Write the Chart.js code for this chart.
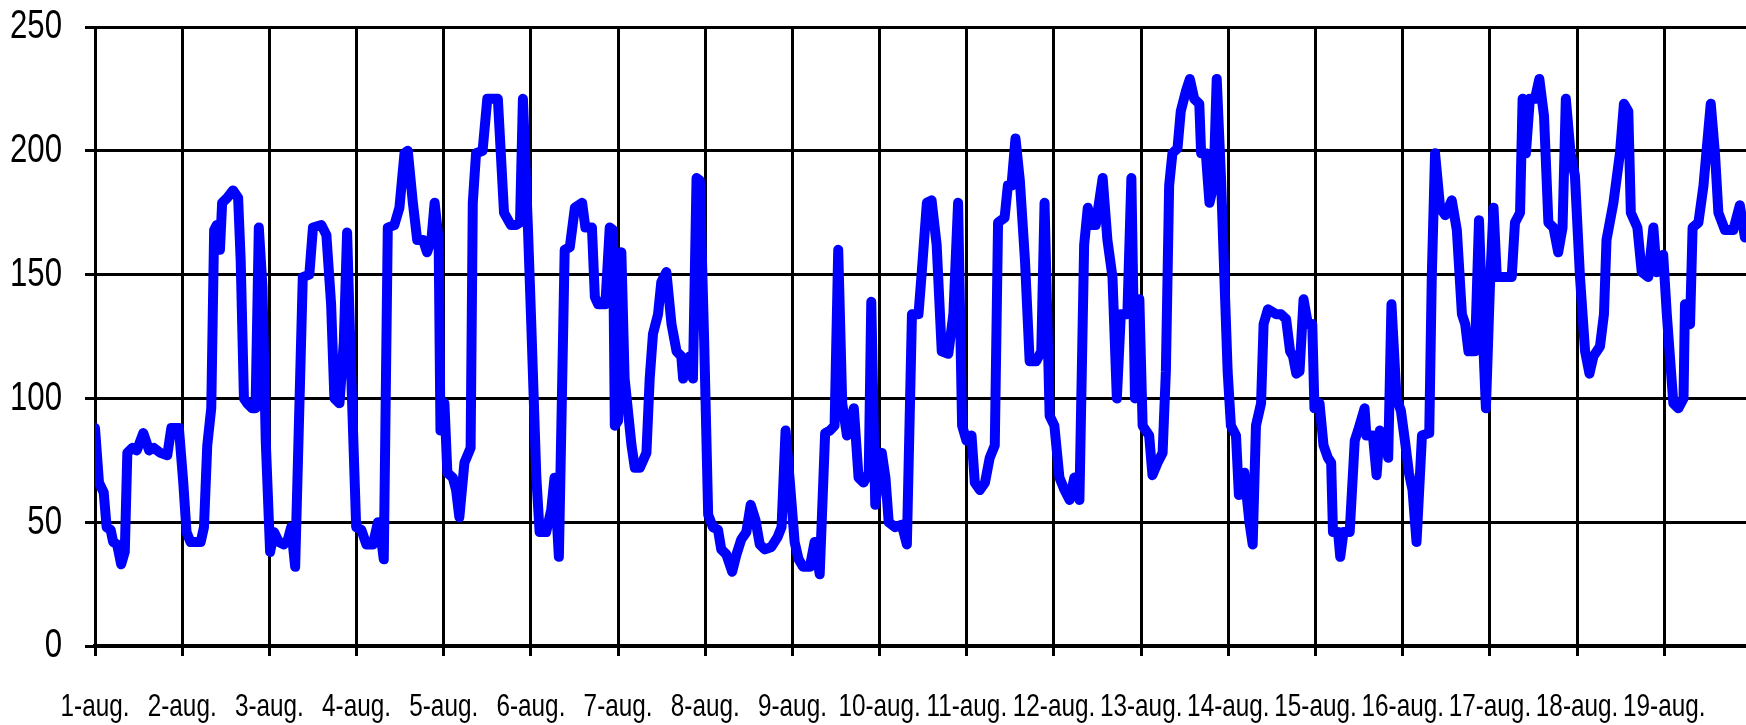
<!DOCTYPE html>
<html>
<head>
<meta charset="utf-8">
<script src="https://cdn.jsdelivr.net/npm/chart.js@4/dist/chart.umd.min.js"></script>
<style>
  html, body { margin: 0; padding: 0; background: #fff; }
  #wrap { width: 1746px; height: 725px; }
</style>
</head>
<body>
<div id="wrap"><canvas id="chart" width="1746" height="725"></canvas></div>
<script>
// day labels, one tick every 24 h
const dayLabels = ['1-aug.','2-aug.','3-aug.','4-aug.','5-aug.','6-aug.','7-aug.','8-aug.','9-aug.','10-aug.',
  '11-aug.','12-aug.','13-aug.','14-aug.','15-aug.','16-aug.','17-aug.','18-aug.','19-aug.'];
const yTicks = [0, 50, 100, 150, 200, 250];

// hours since 1-aug 00:00
const hours = [
  0,1.1,2.4,3.2,4.3,5,6.1,7.2,8.2,8.9,10.3,11.5,13.3,14.9,16.2,18,19.9,21,23.1,
  24.3,25.2,26.3,29.1,30,30.9,32,32.8,33.5,34.4,35,36.4,38,39.4,40.1,41,41.9,43.3,44.2,45.1,46.1,47,
  48.2,49.3,50.6,52,53.1,54,55.1,57.2,59,60,62.3,63.7,65,65.9,67.3,68.5,69.4,70.5,71.9,
  73.3,74.7,76.5,77.9,78.8,79.5,80.6,82.4,83.8,85.2,86.1,87.5,88.7,90.3,91.4,92.6,93.5,94.6,95.1,
  96.2,97,98.5,99.4,100.3,101.7,103.4,104,104.9,106.7,108,110.9,112.6,114.5,115.9,117,117.8,119.2,
  120.1,121.5,122.4,124.2,125.6,126.5,127.7,129.3,130.7,132.1,134.1,135,136.8,137.6,138.5,140.5,141.7,142.6,143.1,
  144,144.9,145.8,147.7,148.6,150,151.8,152.7,153.6,155,155.9,157.3,158.7,160.1,161.4,161.9,163.7,164.6,165.6,166.5,167.7,
  168.8,170.1,171.5,172.4,173.8,175.4,176.6,177.9,179.3,180.5,181.8,183,184.4,186.2,187.9,189,190.1,191.3,
  192.6,193.7,194.9,196.8,198.1,199.5,201,202.3,203.6,204.6,205.7,207,208.9,210.2,211.6,213,213.7,214.8,
  216.6,217.6,218.5,220.3,222.1,223.5,224.9,226.7,227.6,229,230.3,231.7,233.1,234.9,236.3,237.6,238.7,239.9,
  241.3,242.2,243.6,245,246.3,247.7,248.6,250.4,251.3,252.3,253.4,254.6,256,257.3,259.1,260.5,261.4,262.8,
  264.1,265.5,266.9,268.3,269.6,271,272.3,273.3,274.6,275.5,277.4,278.7,280.1,281.3,282.4,284.2,285.3,286.3,287.5,
  288.4,290.2,291.1,292.5,293.9,294.8,295.7,296.6,298,298.9,300.3,301.4,302.6,304,304.5,305.8,306.8,307.9,308.8,310,310.9,311.8,
  312.7,314.1,314.9,316.4,317.8,318.7,319.6,321,321.7,322.9,325.2,326.5,327.9,329,329.8,330.7,331.6,332.7,333.9,335.1,335.7,
  337.1,338.2,339.4,340.3,340.8,342.2,342.8,343.7,345.4,346.8,347.7,349.5,350,351.8,352.8,353.7,355.1,356,356.9,358.3,359.5,
  360.6,361.7,362.7,363.8,365.3,367.3,368,368.9,370.3,371.7,373.5,374.9,376.3,377.2,378.1,379.9,381,382.2,382.9,
  384,385,385.9,387.7,390,390.9,392.3,393,393.9,395,396.4,397.6,398.9,400.1,401.5,402.8,404,404.9,406.2,407.4,
  408.8,410.2,411.4,412.5,414.3,415.4,416.1,418,419.8,420.9,422.1,422.8,424.6,425.8,427.6,429,429.9,431.7,
  432.7,434.5,435.9,437.3,437.7,439.1,439.8,441.4,442.8,443.7,444.8,446,446.9,448.7,451,452.8,454.2
];
const flow = [
  88,66,62,48,47,42,41,33,38,78,80,79,86,79,80,78,77,88,88,
  66,46,42,42,48,81,96,168,170,160,179,181,184,181,156,100,98,96,96,169,145,83,
  38,46,42,41,43,48,32,149,150,169,170,166,138,100,98,123,167,111,48,
  47,41,41,50,43,35,169,170,177,199,200,179,164,164,159,164,179,164,87,
  98,70,68,63,52,74,80,179,199,200,221,221,175,170,170,171,221,168,
  130,68,46,46,55,68,36,160,161,177,179,169,169,141,138,138,169,168,89,
  91,159,108,81,72,72,78,108,126,134,147,151,130,119,117,108,117,108,189,188,123,
  53,48,47,39,37,30,37,43,46,57,51,41,39,40,44,48,87,66,
  42,35,32,32,42,29,86,87,89,160,98,85,96,68,66,70,139,57,
  78,68,50,48,49,41,134,134,151,179,180,162,119,118,134,179,89,83,
  85,66,63,66,76,81,171,173,186,186,205,188,156,115,115,119,179,93,
  89,68,63,59,68,59,162,177,170,170,189,164,149,100,134,134,189,100,140,
  89,85,69,74,78,111,186,199,201,216,224,229,221,219,199,199,179,186,229,188,149,111,
  89,85,61,70,50,41,89,98,130,136,134,134,132,119,117,110,111,140,130,130,96,
  98,81,76,74,46,46,36,46,46,83,87,96,85,85,69,87,85,76,138,100,95,
  83,70,63,42,85,86,149,199,177,174,180,168,134,130,119,119,172,121,96,
  145,177,149,149,149,171,175,221,199,221,221,229,214,171,169,159,169,221,199,190,
  149,119,110,117,121,134,164,179,199,219,216,175,169,151,149,169,151,158,
  134,98,96,100,138,130,169,171,186,201,219,198,175,168,168,178,165
];

const font = "'Liberation Sans', Arial, sans-serif";
const canvas = document.getElementById('chart');

// the original uses a tall narrow face: squeeze every label horizontally round its anchor
const ctx = canvas.getContext('2d');
const fill = ctx.fillText.bind(ctx);
ctx.fillText = function (t, x, y, w) {
  ctx.save();
  ctx.translate(x, y);
  ctx.scale(0.76, 1);
  if (w == null) fill(t, 0, 0); else fill(t, 0, 0, w / 0.76);
  ctx.restore();
};

new Chart(canvas, {
  type: 'line',
  data: {
    datasets: [{
      data: hours.map((h, i) => ({ x: h, y: flow[i] })),
      borderColor: '#0000ff',
      borderWidth: 10,
      borderJoinStyle: 'round',
      borderCapStyle: 'round',
      pointRadius: 0,
      tension: 0,
      fill: false
    }]
  },
  options: {
    responsive: false,
    animation: false,
    devicePixelRatio: 1,
    layout: { padding: { top: 27, right: 0, bottom: 0, left: 0 } },
    plugins: { legend: { display: false }, tooltip: { enabled: false } },
    scales: {
      x: {
        type: 'linear',
        min: 0,
        max: 454.5,
        afterBuildTicks: s => { s.ticks = dayLabels.map((_, i) => ({ value: i * 24 })); },
        afterFit: s => { s.height = 79; s.paddingLeft = 0; s.paddingRight = 0; },
        grid: { color: '#000', lineWidth: 3, tickLength: 10 },
        border: { color: '#000', width: 4 },
        ticks: {
          autoSkip: false, maxRotation: 0, minRotation: 0, padding: 32,
          color: '#000', font: { family: font, size: 32 },
          callback: v => dayLabels[Math.round(v / 24)]
        }
      },
      y: {
        min: 0,
        max: 250,
        afterBuildTicks: s => { s.ticks = yTicks.map(v => ({ value: v })); },
        afterFit: s => { s.width = 95; s.paddingTop = 0; s.paddingBottom = 0; },
        grid: { color: '#000', lineWidth: 3, tickLength: 10 },
        border: { color: '#000', width: 3 },
        ticks: { padding: 23, color: '#000', font: { family: font, size: 41 } }
      }
    }
  }
});
</script>
</body>
</html>
